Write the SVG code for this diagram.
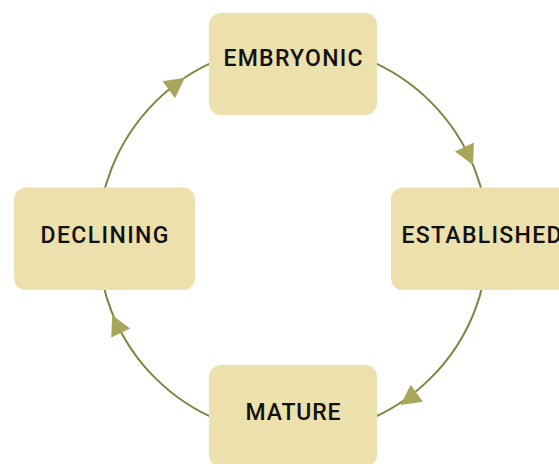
<svg xmlns="http://www.w3.org/2000/svg" width="559" height="464" viewBox="0 0 559 464">
  <style>
    .node rect { fill: #ece0ad; }
    .node text { font-family: Roboto, "DejaVu Sans", sans-serif; font-weight: 500; font-size: 23px; fill: #111111; text-anchor: middle; }
    .conn { fill: none; stroke: #78873d; stroke-width: 2; }
    .head { fill: #a9a65b; }
  </style>
  <defs>
    <path id="ah" d="M0,0 L-20,-10.5 L-20,10.5 Z"/>
  </defs>
  <rect width="559" height="464" fill="#ffffff"/>
  <g id="connectors">
    <path class="conn" d="M293,45 A195,195 0 0 1 488,240"/>
    <path class="conn" d="M488,240 A195,195 0 0 1 293,435"/>
    <path class="conn" d="M293,435 A195,195 0 0 1 98,240"/>
    <path class="conn" d="M98,240 A195,195 0 0 1 293,45"/>
    <use href="#ah" class="head" transform="translate(184.8,77.8) rotate(-36.7)"/>
    <use href="#ah" class="head" transform="translate(473.1,165) rotate(64.4)"/>
    <use href="#ah" class="head" transform="translate(400.6,405) rotate(144)"/>
    <use href="#ah" class="head" transform="translate(112.1,315) rotate(244.4)"/>
  </g>
  <g id="embryonic" class="node">
    <rect x="209" y="13" width="168" height="102" rx="12"/>
    <text x="293" y="66" textLength="139" lengthAdjust="spacing">EMBRYONIC</text>
  </g>
  <g id="established" class="node">
    <rect x="391" y="187.5" width="181" height="102.5" rx="12"/>
    <text x="481.5" y="243" textLength="160" lengthAdjust="spacing">ESTABLISHED</text>
  </g>
  <g id="mature" class="node">
    <rect x="209" y="365" width="168" height="102" rx="12"/>
    <text x="293" y="420" textLength="95" lengthAdjust="spacing">MATURE</text>
  </g>
  <g id="declining" class="node">
    <rect x="14" y="187.5" width="181" height="102.5" rx="12"/>
    <text x="104.5" y="243" textLength="128" lengthAdjust="spacing">DECLINING</text>
  </g>
</svg>
